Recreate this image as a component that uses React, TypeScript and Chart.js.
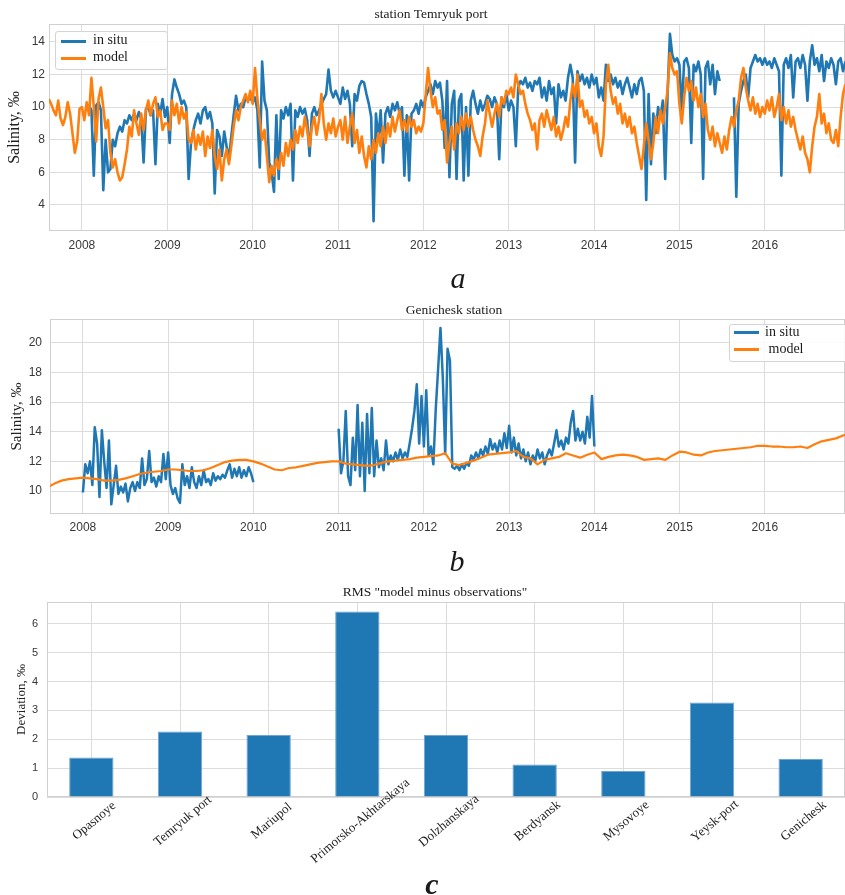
import React, { useEffect, useRef } from "react";
import { Chart, registerables } from "chart.js";

Chart.register(...registerables);

// ---------------- shared axis data ----------------
const yearTicks = [2008, 2009, 2010, 2011, 2012, 2013, 2014, 2015, 2016];
const xMin = 2007.614;
const xMax = 2016.94;

// ---------------- panel a : station Temryuk port ----------------
const temryukStart = 2007 + 22 / 36; // first sample (decimal year)
const temryukStep = 1 / 36; // ~10 days
const temryukModel = [
  // 2007 (Aug-Dec)
  10.5, 10.2, 9.8, 9.5, 10.4, 9.3, 8.9, 9.4, 10.3, 9.6, 8.4, 7.2, 7.9, 9.9,
  // 2008
  10.0, 9.2, 10.3, 9.5, 11.8, 10.0, 7.9, 10.5, 11.2, 10.0, 8.7, 9.2, 7.2, 6.3, 6.8, 6.0, 5.5, 5.7,
  6.5, 7.4, 8.8, 8.2, 9.8, 9.0, 8.3, 9.6, 8.6, 9.8, 10.4, 9.5, 10.2, 10.6, 9.4, 9.8, 8.6, 9.0,
  // 2009
  9.0, 8.6, 10.4, 9.5, 10.2, 9.0, 10.0, 9.3, 9.7, 8.0, 7.8, 8.6, 7.4, 8.3, 7.7, 8.5, 7.0, 8.2,
  7.5, 8.6, 7.0, 6.2, 7.4, 5.5, 6.8, 7.4, 6.5, 7.6, 8.8, 9.8, 9.2, 10.0, 10.4, 10.8, 10.3, 11.0,
  // 2010
  10.2, 12.4, 10.5, 9.2, 8.0, 8.6, 7.0, 5.4, 6.4, 5.8, 6.8, 6.2, 7.2, 6.4, 7.8, 7.0, 8.0, 7.4,
  8.6, 7.8, 8.8, 8.2, 9.4, 8.6, 7.6, 8.8, 9.4, 8.3, 9.2, 10.8, 9.0, 8.0, 9.0, 8.4, 9.3, 8.2,
  // 2011
  8.8, 9.2, 8.0, 9.4, 7.8, 8.8, 9.6, 7.8, 8.6, 7.2, 8.2, 7.0, 6.3, 7.6, 6.8, 8.0, 7.2, 8.4,
  7.6, 8.8, 7.8, 9.0, 8.2, 9.4, 8.5, 9.2, 9.8, 8.6, 9.2, 8.5, 9.4, 8.8, 9.2, 8.4, 8.8, 8.5,
  // 2012
  9.0, 10.8, 12.4, 11.0, 10.0, 10.6, 9.6, 9.8, 8.6, 9.2, 6.6, 7.8, 8.8, 7.4, 9.0, 8.4, 9.4, 8.6,
  9.6, 8.8, 9.4, 8.6, 8.0, 7.6, 7.0, 8.2, 9.0, 10.4, 9.6, 8.8, 9.6, 10.2, 9.4, 10.6, 10.2, 11.0,
  // 2013
  10.8, 11.2, 10.6, 12.0, 11.4, 10.8, 11.0, 10.2, 9.6, 9.2, 8.6, 9.0, 7.4, 9.2, 9.6, 8.8, 9.8, 9.2,
  8.6, 9.4, 8.2, 8.8, 8.0, 8.6, 9.4, 8.8, 10.4, 11.4, 10.6, 12.0, 10.0, 10.4, 9.4, 9.8, 9.0, 9.4,
  // 2014
  8.4, 9.0, 7.6, 7.0, 8.2, 11.4, 12.6, 11.0, 10.2, 10.6, 9.6, 10.2, 9.0, 9.6, 8.8, 9.4, 8.4, 8.8,
  7.8, 7.0, 6.2, 7.6, 9.0, 8.0, 6.8, 7.8, 9.4, 8.4, 9.8, 9.0, 10.0, 11.0, 13.3, 12.4, 12.0, 12.2,
  // 2015
  10.2, 9.0, 10.6, 11.8, 11.0, 11.6, 10.4, 11.2, 10.0, 10.8, 9.4, 10.2, 8.6, 8.0, 8.8, 7.6, 8.4, 7.8,
  7.2, 8.2, 7.4, 8.6, 9.4, 8.8, 9.8, 10.4, 11.8, 12.4, 11.2, 10.4, 9.8, 10.6, 9.6, 10.2, 9.4, 10.0,
  // 2016
  9.6, 10.4, 9.8, 10.6, 9.4, 10.0, 10.8, 9.2, 10.0, 9.0, 9.8, 8.8, 9.4, 8.6, 8.0, 7.4, 8.2, 7.2,
  6.8, 6.0, 7.6, 8.8, 9.4, 10.8, 9.0, 9.6, 8.4, 9.0, 8.0, 7.8, 8.6, 7.6, 9.4, 10.8, 11.4,
];
const temryukInSitu = [
  // 2007 (Aug-Dec): no observations
  null, null, null, null, null, null, null, null, null, null, null, null, null, null,
  // 2008
  null, null, 10.0, 10.1, 9.8, 5.8, 10.1, 10.3, 9.8, 4.9, 8.0, 6.0, 6.2, 8.0, 7.6, 8.4, 8.8, 8.5,
  9.2, 9.0, 9.5, 9.2, 9.6, 9.2, 9.7, 9.3, 6.6, 9.9, 10.0, 9.5, 9.8, 6.5, 10.2, 9.6, 10.5, 9.4,
  // 2009
  10.0, 7.8, 10.8, 11.7, 11.2, 10.8, 10.2, 10.4, 10.0, 5.6, 7.8, 8.6, 9.2, 9.6, 9.0, 9.8, 10.0, 9.3,
  9.7, 9.0, 4.7, 8.6, 8.2, 7.0, 8.5, 7.6, 6.8, 8.2, 9.5, 10.7, 9.8, 10.2, 10.0, 10.6, 10.4, 10.6,
  // 2010
  10.3, 10.6, 9.8, 6.3, 12.8, 10.4, 9.8, 6.6, 6.0, 4.8, 9.5, 5.6, 9.8, 9.3, 10.0, 9.5, 10.2, 5.5,
  9.8, 9.4, 10.0, 9.6, 9.9, 9.2, 7.0, 9.6, 10.0, 9.5, 9.8, 10.2, 10.5, 10.8, 12.3, 11.0, 10.6, 11.0,
  // 2011
  10.6, 10.2, 11.2, 10.5, 11.0, 10.2, 7.6, 10.8, 10.4, 11.3, 11.6, 11.5, 10.8, 10.2, 9.4, 3.0, 9.6, 8.0,
  9.8, 6.6, 9.6, 10.0, 9.4, 10.2, 9.8, 10.3, 9.6, 10.0, 5.8, 9.5, 5.5, 9.6, 9.8, 10.2, 9.6, 10.4,
  // 2012
  10.0, 10.6, 11.0, 11.4, 10.8, 11.6, 11.2, 11.5, 10.4, 7.5, 11.6, 5.7, 10.2, 11.0, 5.6, 10.4, 10.8, 5.5,
  10.0, 5.8, 10.4, 11.0, 10.2, 9.6, 10.4, 9.8, 10.2, 10.7, 10.5, 10.0, 10.6, 10.2, 6.8, 10.6, 10.0, 10.8,
  // 2013
  9.8, 10.4, 10.0, 7.6, 11.2, 11.6, 11.4, 11.8, 11.2, 11.5, 11.0, 11.6, 11.4, 11.8, 10.6, 11.2, 10.4, 11.6,
  10.8, 11.2, 9.0, 11.4, 10.6, 11.0, 10.4, 11.8, 12.6, 11.8, 6.6, 12.2, 11.6, 12.0, 11.4, 11.8, 11.2, 12.0,
  // 2014
  11.4, 11.8, 10.6, 11.2, 10.4, 12.6, 11.6, 12.0, 11.4, 11.8, 11.2, 11.6, 10.8, 11.4, 11.8, 11.2, 10.6, 11.4,
  10.8, 11.6, 11.8, 11.0, 4.3, 10.8, 6.5, 9.6, 8.4, 10.0, 9.4, 10.4, 5.6, 10.8, 14.5, 13.2, 12.8, 13.0,
  // 2015
  12.6, 9.8, 12.8, 13.0, 12.4, 7.8, 12.6, 12.2, 12.8, 12.0, 5.6, 12.4, 12.8, 11.4, 12.6, 10.8, 12.2, 11.6,
  null, null, null, null, null, 10.6, 4.5, 10.2, 11.0, 11.6, 12.0, 10.6, 12.4, 12.8, 13.2, 12.8, 13.0, 12.6,
  // 2016
  13.0, 12.6, 12.8, 12.4, 13.0, 12.6, 12.2, 5.8, 12.6, 13.0, 12.4, 13.2, 10.6, 12.8, 13.0, 12.4, 13.2, 12.6,
  10.4, 12.8, 13.8, 12.6, 13.0, 12.2, 13.2, 11.6, 12.8, 12.4, 13.0, 12.6, 11.4, 12.8, 13.0, 12.2, 12.8,
];
const temryukYTicks = [4, 6, 8, 10, 12, 14];

// ---------------- panel b : Genichesk station ----------------
const genInSituStart = 2008;
const genInSituStep = 1 / 36;
const genichInSitu = [
  // 2008
  9.9, 11.8, 11.2, 12.0, 10.4, 14.3, 13.2, 9.6, 14.1, 12.0, 10.2, 13.4, 9.1, 10.4, 11.7, 9.8, 10.3, 9.9,
  10.5, 9.3, 10.2, 10.6, 10.0, 10.6, 10.2, 12.2, 10.4, 10.8, 12.7, 10.6, 10.9, 10.3, 11.0, 10.6, 12.5, 10.8,
  // 2009
  12.6, 10.4, 9.8, 10.2, 9.5, 9.2, 11.8, 10.4, 11.0, 10.2, 11.6, 10.6, 10.2, 11.0, 10.4, 11.4, 10.6, 10.8,
  10.4, 11.2, 10.7, 11.0, 10.8, 11.1, 10.9, 11.4, 11.8, 10.9, 11.5, 11.0, 11.6, 10.9, 11.4, 11.0, 11.6, 11.2,
  // 2010 (no observations after January)
  10.6, null, null, null, null, null, null, null, null, null, null, null, null, null, null, null, null, null,
  null, null, null, null, null, null, null, null, null, null, null, null, null, null, null, null, null, null,
  // 2011
  14.2, 11.2, 12.0, 15.4, 11.0, 10.4, 13.6, 11.4, 15.8, 11.0, 14.6, 10.0, 15.2, 11.2, 15.6, 11.0, 13.4, 11.6,
  12.2, 11.4, 13.4, 11.8, 12.4, 12.0, 12.6, 12.1, 12.8, 12.2, 12.6, 12.3, 13.2, 14.2, 15.4, 17.2, 13.2, 16.4,
  // 2012
  13.0, 16.8, 12.4, 13.0, 11.8, 15.5, 18.2, 21.0, 17.6, 12.5, 19.6, 18.8, 11.6, 11.5, 11.7, 11.4, 11.8, 11.5,
  11.9, 11.7, 12.4, 12.1, 12.6, 12.2, 12.8, 12.4, 13.0, 12.5, 13.5, 12.8, 13.2, 12.6, 13.4, 12.8, 13.9, 12.9,
  // 2013
  14.4, 12.6, 13.6, 12.4, 13.2, 12.2, 12.8, 12.0, 12.6, 11.8, 12.4, 12.0, 12.8, 12.2, 12.6, 11.8, 12.4, 12.8,
  12.4, 13.2, 14.1, 13.0, 13.4, 12.8, 13.6, 13.2, 14.6, 15.4, 13.4, 14.2, 13.4, 14.0, 13.2, 15.0, 13.6, 16.4,
  // 2014
  13.0,
];
const genModelStart = 2007 + 7 / 12; // monthly
const genModelStep = 1 / 12;
const genichModel = [
  10.25, 10.5, 10.7, 10.8, 10.85,
  10.9, 10.85, 10.8, 10.7, 10.7, 10.75, 10.85, 11.0, 11.15, 11.25, 11.3, 11.35,
  11.45, 11.45, 11.4, 11.35, 11.35, 11.4, 11.55, 11.75, 11.95, 12.05, 12.1, 12.1,
  12.0, 11.85, 11.65, 11.45, 11.4, 11.55, 11.6, 11.7, 11.8, 11.9, 11.95, 12.0,
  12.0, 11.85, 11.8, 11.75, 11.7, 11.75, 11.9, 12.0, 12.05, 12.1, 12.15, 12.25,
  12.3, 12.35, 12.4, 12.55, 11.85, 11.75, 11.9, 12.05, 12.25, 12.45, 12.5, 12.55,
  12.6, 12.7, 12.3, 12.2, 11.8, 12.1, 12.2, 12.3, 12.55, 12.4, 12.25, 12.45,
  12.6, 12.15, 12.3, 12.4, 12.45, 12.4, 12.3, 12.1, 12.15, 12.2, 12.1, 12.4,
  12.65, 12.6, 12.45, 12.4, 12.6, 12.7, 12.75, 12.8, 12.85, 12.9, 12.95, 13.05,
  13.05, 13.0, 13.0, 12.95, 12.95, 13.0, 12.9, 13.15, 13.35, 13.45, 13.55, 13.75,
  13.8,
];
const genYTicks = [10, 12, 14, 16, 18, 20];

// ---------------- panel c : RMS ----------------
const stations = [
  "Opasnoye",
  "Temryuk port",
  "Mariupol",
  "Primorsko-Akhtarskaya",
  "Dolzhanskaya",
  "Berdyansk",
  "Mysovoye",
  "Yeysk-port",
  "Genichesk",
];
const rmsDeviation = [1.37, 2.27, 2.15, 6.43, 2.15, 1.13, 0.9, 3.28, 1.32];
const rmsYTicks = [0, 1, 2, 3, 4, 5, 6];

// ---------------- styles ----------------
const BLUE = "#1f77b4";
const ORANGE = "#ff7f0e";
const GRID = "#dcdcdc";
const FRAME = "#d0d0d0";
const TICK = "#383838";
const SANS = "'Liberation Sans', Arial, sans-serif";
const SERIF = "'Liberation Serif', 'Times New Roman', serif";

const toPoints = (vals: (number | null)[], start: number, step: number) =>
  vals.map((v, i) => ({ x: start + i * step, y: v }));

const framePlugin = {
  id: "frame",
  beforeDatasetsDraw(chart: any) {
    const { ctx, chartArea: a } = chart;
    ctx.save();
    ctx.strokeStyle = FRAME;
    ctx.lineWidth = 1;
    ctx.strokeRect(
      Math.round(a.left) + 0.5,
      Math.round(a.top) + 0.5,
      Math.round(a.right - a.left) - 1,
      Math.round(a.bottom - a.top) - 1
    );
    ctx.restore();
  },
};

const slantedLabels = {
  id: "slantedLabels",
  afterDraw(chart: any) {
    const s = chart.scales.x;
    const ctx = chart.ctx;
    ctx.save();
    ctx.font = `13px ${SERIF}`;
    ctx.fillStyle = "#222222";
    ctx.textAlign = "center";
    ctx.textBaseline = "middle";
    const labels = chart.data.labels as string[];
    labels.forEach((lab, i) => {
      const x = s.getPixelForTick(i);
      ctx.save();
      ctx.translate(x + 3, s.top + 24);
      ctx.rotate((-40 * Math.PI) / 180);
      ctx.fillText(lab, 0, 0);
      ctx.restore();
    });
    ctx.restore();
  },
};

type TSOpts = {
  inSitu: { x: number; y: number | null }[];
  model: { x: number; y: number | null }[];
  inSituWidth: number;
  modelWidth: number;
  yMin: number;
  yMax: number;
  yTicks: number[];
  yTitleSize: number;
  yTitlePad: number;
  yTickPad: number;
  yWidth: number;
  padTop: number;
  xHeight: number;
  xPad: number;
};

function timeSeriesConfig(o: TSOpts): any {
  return {
    type: "line",
    data: {
      datasets: [
        {
          label: "in situ",
          data: o.inSitu,
          borderColor: BLUE,
          backgroundColor: BLUE,
          borderWidth: o.inSituWidth,
          pointRadius: 0,
          spanGaps: false,
          borderJoinStyle: "round",
          order: 1,
        },
        {
          label: "model",
          data: o.model,
          borderColor: ORANGE,
          backgroundColor: ORANGE,
          borderWidth: o.modelWidth,
          pointRadius: 0,
          borderJoinStyle: "round",
          order: 0,
        },
      ],
    },
    options: {
      responsive: false,
      animation: false,
      events: [],
      layout: { padding: { top: o.padTop, left: 0, right: 0, bottom: 0 } },
      plugins: { legend: { display: false }, title: { display: false }, tooltip: { enabled: false } },
      scales: {
        x: {
          type: "linear",
          min: xMin,
          max: xMax,
          afterBuildTicks: (s: any) => {
            s.ticks = yearTicks.map((v) => ({ value: v }));
          },
          afterFit: (s: any) => {
            s.height = o.xHeight;
          },
          grid: { color: GRID, lineWidth: 1, drawTicks: false },
          border: { display: false },
          ticks: {
            autoSkip: false,
            maxRotation: 0,
            padding: o.xPad,
            color: TICK,
            font: { family: SANS, size: 12 },
            callback: (v: any) => String(v),
          },
        },
        y: {
          type: "linear",
          min: o.yMin,
          max: o.yMax,
          afterBuildTicks: (s: any) => {
            s.ticks = o.yTicks.map((v) => ({ value: v }));
          },
          afterFit: (s: any) => {
            s.width = o.yWidth;
          },
          grid: { color: GRID, lineWidth: 1, drawTicks: false },
          border: { display: false },
          ticks: {
            padding: o.yTickPad,
            color: TICK,
            font: { family: SANS, size: 12 },
            callback: (v: any) => String(v),
          },
          title: {
            display: true,
            text: "Salinity, ‰",
            color: "#222222",
            font: { family: SERIF, size: o.yTitleSize },
            padding: { top: o.yTitlePad, bottom: 0 },
          },
        },
      },
    },
    plugins: [framePlugin],
  };
}

function configA(): any {
  return timeSeriesConfig({
    inSitu: toPoints(temryukInSitu, temryukStart, temryukStep),
    model: toPoints(temryukModel, temryukStart, temryukStep),
    inSituWidth: 2.6,
    modelWidth: 2.6,
    yMin: 2.4,
    yMax: 15.1,
    yTicks: temryukYTicks,
    yTitleSize: 16,
    yTitlePad: 5,
    yTickPad: 4,
    yWidth: 49,
    padTop: 24,
    xHeight: 31,
    xPad: 7,
  });
}

function configB(): any {
  return timeSeriesConfig({
    inSitu: toPoints(genichInSitu, genInSituStart, genInSituStep),
    model: toPoints(genichModel, genModelStart, genModelStep),
    inSituWidth: 2.5,
    modelWidth: 2.2,
    yMin: 8.45,
    yMax: 21.6,
    yTicks: genYTicks,
    yTitleSize: 15,
    yTitlePad: 8,
    yTickPad: 8,
    yWidth: 50,
    padTop: 29,
    xHeight: 26,
    xPad: 6,
  });
}

function configC(): any {
  return {
    type: "bar",
    data: {
      labels: stations,
      datasets: [
        {
          label: "RMS",
          data: rmsDeviation,
          backgroundColor: BLUE,
          borderColor: "#6ea5d3",
          borderWidth: 1,
          barPercentage: 0.5,
          categoryPercentage: 1,
        },
      ],
    },
    options: {
      responsive: false,
      animation: false,
      events: [],
      layout: { padding: { top: 27, left: 0, right: 0, bottom: 0 } },
      plugins: { legend: { display: false }, title: { display: false }, tooltip: { enabled: false } },
      scales: {
        x: {
          grid: { color: GRID, offset: false, drawTicks: false },
          border: { display: false },
          ticks: { display: false },
          afterFit: (s: any) => {
            s.height = 98;
          },
        },
        y: {
          min: 0,
          max: 6.76,
          afterBuildTicks: (s: any) => {
            s.ticks = rmsYTicks.map((v) => ({ value: v }));
          },
          afterFit: (s: any) => {
            s.width = 47;
          },
          grid: { color: GRID, drawTicks: false },
          border: { display: false },
          ticks: {
            padding: 9,
            color: TICK,
            font: { family: SANS, size: 11 },
            callback: (v: any) => String(v),
          },
          title: {
            display: true,
            text: "Deviation, ‰",
            color: "#222222",
            font: { family: SERIF, size: 13 },
            padding: { top: 14, bottom: 0 },
          },
        },
      },
    },
    plugins: [framePlugin, slantedLabels],
  };
}

function ChartCanvas({ make, top, height }: { make: () => any; top: number; height: number }) {
  const ref = useRef<HTMLCanvasElement | null>(null);
  useEffect(() => {
    const chart = new Chart(ref.current as HTMLCanvasElement, make());
    return () => chart.destroy();
  }, [make]);
  return (
    <canvas
      ref={ref}
      width={845}
      height={height}
      style={{ position: "absolute", left: 0, top, width: 845, height, display: "block" }}
    />
  );
}

function Text({
  children,
  cx,
  top,
  size,
  italic,
  bold,
}: {
  children: React.ReactNode;
  cx: number;
  top: number;
  size: number;
  italic?: boolean;
  bold?: boolean;
}) {
  return (
    <div
      style={{
        position: "absolute",
        left: cx,
        top,
        transform: "translateX(-50%)",
        whiteSpace: "pre",
        fontFamily: SERIF,
        fontSize: size,
        lineHeight: `${size}px`,
        fontStyle: italic ? "italic" : "normal",
        fontWeight: bold ? "bold" : "normal",
        color: "#1a1a1a",
      }}
    >
      {children}
    </div>
  );
}

function Legend({
  left,
  top,
  width,
  height,
  rows,
}: {
  left: number;
  top: number;
  width: number;
  height: number;
  rows: { color: string; label: string; lineY: number; lineX: number; textX: number; textTop: number }[];
}) {
  return (
    <div
      style={{
        position: "absolute",
        left,
        top,
        width,
        height,
        boxSizing: "border-box",
        border: "1px solid #d4d4d4",
        borderRadius: 3,
        background: "rgba(255,255,255,0.85)",
      }}
    >
      {rows.map((r) => (
        <React.Fragment key={r.label}>
          <div
            style={{
              position: "absolute",
              left: r.lineX,
              top: r.lineY,
              width: 25,
              height: 3,
              background: r.color,
            }}
          />
          <div
            style={{
              position: "absolute",
              left: r.textX,
              top: r.textTop,
              whiteSpace: "pre",
              fontFamily: SERIF,
              fontSize: 14,
              lineHeight: "14px",
              color: "#1a1a1a",
            }}
          >
            {r.label}
          </div>
        </React.Fragment>
      ))}
    </div>
  );
}

export default function App() {
  return (
    <div
      style={{
        position: "absolute",
        left: 0,
        top: 0,
        width: 845,
        height: 895,
        overflow: "hidden",
        background: "#ffffff",
      }}
    >
      <ChartCanvas make={configA} top={0} height={262} />
      <ChartCanvas make={configB} top={290} height={250} />
      <ChartCanvas make={configC} top={575} height={320} />

      <Text cx={431} top={7} size={13.5}>station Temryuk port</Text>
      <Text cx={454} top={303} size={13.5}>Genichesk station</Text>
      <Text cx={435} top={585} size={13.5}>RMS "model minus observations"</Text>

      <Text cx={458} top={263} size={30} italic>a</Text>
      <Text cx={457} top={546} size={30} italic>b</Text>
      <Text cx={432} top={869} size={30} italic bold>c</Text>

      <Legend
        left={55}
        top={31}
        width={113}
        height={39}
        rows={[
          { color: BLUE, label: "in situ", lineY: 8, lineX: 5, textX: 37, textTop: 1 },
          { color: ORANGE, label: "model", lineY: 25, lineX: 5, textX: 37, textTop: 18 },
        ]}
      />
      <Legend
        left={729}
        top={324}
        width={125}
        height={38}
        rows={[
          { color: BLUE, label: "in situ", lineY: 6, lineX: 4, textX: 35, textTop: 0 },
          { color: ORANGE, label: " model", lineY: 23, lineX: 4, textX: 35, textTop: 17 },
        ]}
      />
    </div>
  );
}
